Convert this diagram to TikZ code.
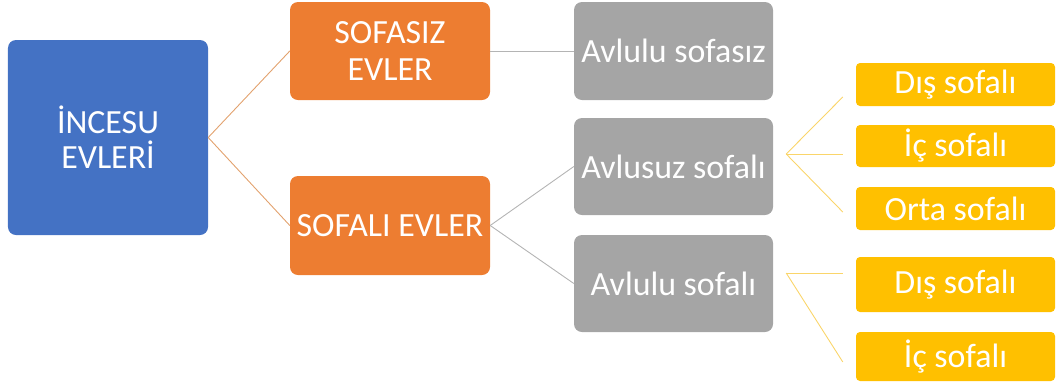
\documentclass[tikz,border=0pt]{standalone}
\usepackage{fontspec}
\setmainfont{Carlito}
\usepackage{tikz}
\usetikzlibrary{calc,positioning}
\definecolor{RootBlue}{HTML}{4472C4}
\definecolor{HouseOrange}{HTML}{ED7D31}
\definecolor{TypeGray}{HTML}{A5A5A5}
\definecolor{SofaYellow}{HTML}{FFC000}
\definecolor{LinkOrange}{HTML}{E2A26E}
\definecolor{LinkGray}{HTML}{B4B4B4}
\definecolor{LinkYellow}{HTML}{FAD56A}
\tikzset{
  box/.style={
    rounded corners=8bp,
    text=white,
    align=center,
    inner sep=0pt
  },
  rootbox/.style={box, fill=RootBlue, minimum width=200bp, minimum height=195bp,
    font=\fontsize{34}{35}\selectfont},
  housebox/.style={box, fill=HouseOrange, minimum width=200bp, minimum height=98bp,
    font=\fontsize{34}{37}\selectfont},
  typebox/.style={box, fill=TypeGray, minimum width=199bp, minimum height=97bp,
    font=\fontsize{34}{37}\selectfont},
  sofabox/.style={box, fill=SofaYellow, rounded corners=4bp, minimum width=199bp,
    font=\fontsize{34}{37}\selectfont},
  link/.style={line width=0.9bp}
}
\begin{document}
\begin{tikzpicture}[x=1bp,y=-1bp]
  \useasboundingbox (0,0) rectangle (1057,389);
  % root
  \node[rootbox] (incesu) at (108,137.5) {İNCESU\\EVLERİ};
  % house groups
  \node[housebox] (sofasiz) at (390,51) {SOFASIZ\\EVLER};
  \node[housebox, minimum height=99bp] (sofali) at (390,225.5) {SOFALI EVLER};
  % house types
  \node[typebox, minimum height=98bp] (avlulusofasiz) at (673.5,51) {Avlulu sofasız};
  \node[typebox] (avlusuz) at (673.5,166.5) {Avlusuz sofalı};
  \node[typebox] (avlulusofali) at (673.5,283.5) {Avlulu sofalı};
  % sofa kinds
  \node[sofabox, minimum height=43bp] (dis1) at (955.5,84.5) {Dış sofalı};
  \node[sofabox, minimum height=42bp] (ic1) at (955.5,146) {İç sofalı};
  \node[sofabox, minimum height=43bp] (orta) at (955.5,208.5) {Orta sofalı};
  \node[sofabox, minimum height=55bp] (dis2) at (955.5,284.5) {Dış sofalı};
  \node[sofabox, minimum height=49bp] (ic2) at (955.5,356.5) {İç sofalı};

  \draw[link, LinkOrange] (incesu.east) -- (sofasiz.west);
  \draw[link, LinkOrange] (incesu.east) -- (sofali.west);
  \draw[link, LinkGray] (sofasiz.east) -- (avlulusofasiz.west);
  \draw[link, LinkGray] (sofali.east) -- (avlusuz.west);
  \draw[link, LinkGray] (sofali.east) -- (avlulusofali.west);
  % fork points, off the box edges
  \coordinate (avlusuzfork) at ([shift={(13,-12.5)}]avlusuz.east);
  \coordinate (avlulufork) at ([shift={(13,-10.5)}]avlulusofali.east);
  \draw[link, LinkYellow] (avlusuzfork) -- ([shift={(-13,12.5)}]dis1.west);
  \draw[link, LinkYellow] (avlusuzfork) -- ([shift={(-13,8)}]ic1.west);
  \draw[link, LinkYellow] (avlusuzfork) -- ([shift={(-13,3.5)}]orta.west);
  \draw[link, LinkYellow] (avlulufork) -- ([shift={(-13,-11.5)}]dis2.west);
  \draw[link, LinkYellow] (avlulufork) -- ([shift={(-13,5.5)}]ic2.west);
\end{tikzpicture}
\end{document}
